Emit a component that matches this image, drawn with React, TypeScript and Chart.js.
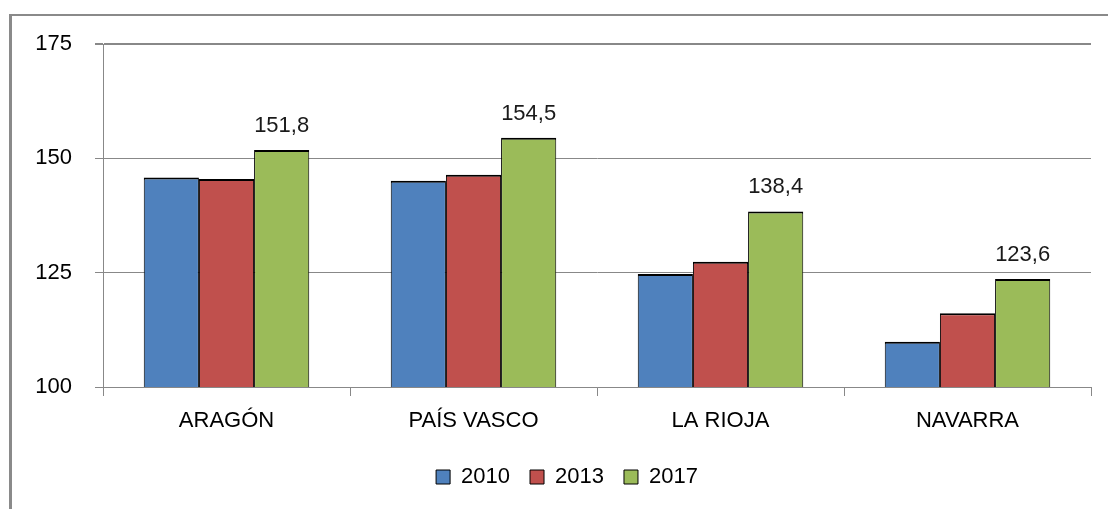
import React, { useEffect, useRef } from "react";
import { Chart, registerables } from "chart.js";

Chart.register(...registerables);

const categories = ["ARAGÓN", "PAÍS VASCO", "LA RIOJA", "NAVARRA"];
const seriesNames = ["2010", "2013", "2017"];
const values2010 = [145.8, 145.1, 124.7, 109.9];
const values2013 = [145.5, 146.4, 127.4, 116.1];
const values2017 = [151.8, 154.5, 138.4, 123.6];
const colors = ["#4F81BD", "#C0504D", "#9BBB59"];
const yMin = 100;
const yMax = 175;
const yStep = 25;

const FONT = "'Liberation Sans', Arial, sans-serif";

const valueLabels = {
  id: "valueLabels",
  afterDatasetsDraw(chart: any) {
    const ctx = chart.ctx;
    const meta = chart.getDatasetMeta(2);
    const ds = chart.data.datasets[2];
    ctx.save();
    ctx.font = `22px ${FONT}`;
    ctx.fillStyle = "#1a1a1a";
    ctx.textAlign = "center";
    ctx.textBaseline = "alphabetic";
    meta.data.forEach((bar: any, i: number) => {
      const v = ds.data[i] as number;
      ctx.fillText(v.toFixed(1).replace(".", ","), bar.x, bar.y - 18);
    });
    ctx.restore();
  },
};

export default function App() {
  const ref = useRef<HTMLCanvasElement>(null);
  useEffect(() => {
    if (!ref.current) return;
    const data = [values2010, values2013, values2017];
    const chart = new Chart(ref.current, {
      type: "bar",
      data: {
        labels: categories,
        datasets: seriesNames.map((name, k) => ({
          label: name,
          data: data[k],
          backgroundColor: colors[k],
          borderColor: "#000000",
          borderWidth: { top: 2, left: 1, right: 1, bottom: 0 },
          categoryPercentage: 0.67,
          barPercentage: 1.0,
        })),
      },
      options: {
        animation: false,
        responsive: false,
        maintainAspectRatio: false,
        layout: { padding: { left: 35, right: 9, top: 44, bottom: 11 } },
        plugins: {
          tooltip: { enabled: false },
          legend: {
            position: "bottom",
            labels: {
              boxWidth: 14,
              boxHeight: 14,
              padding: 20,
              color: "#000",
              font: { family: FONT, size: 22 },
            },
          },
        },
        scales: {
          x: {
            afterFit: (s: any) => {
              s.height = 59;
            },
            grid: {
              offset: true,
              drawOnChartArea: false,
              drawTicks: true,
              tickLength: 9,
              color: "#888888",
            },
            border: { display: true, color: "#888888", width: 1 },
            ticks: {
              color: "#000",
              padding: 12,
              font: { family: FONT, size: 22 },
            },
          },
          y: {
            min: yMin,
            max: yMax,
            afterFit: (s: any) => {
              s.width = 68;
            },
            afterBuildTicks: (s: any) => {
              const t = [];
              for (let v = yMin; v <= yMax; v += yStep) t.push({ value: v });
              s.ticks = t;
            },
            grid: {
              color: "#888888",
              lineWidth: (c: any) => (c.tick && c.tick.value === yMax ? 2 : 1),
              tickLength: 8,
              drawTicks: true,
            },
            border: { display: true, color: "#888888", width: 1 },
            ticks: {
              color: "#000",
              padding: 23,
              stepSize: yStep,
              font: { family: FONT, size: 22 },
            },
          },
          yRightSpace: {
            type: "linear",
            position: "right",
            display: true,
            afterFit: (s: any) => {
              s.width = 8;
            },
            grid: { display: false, drawTicks: false },
            border: { display: false },
            ticks: { display: false },
          },
        },
      },
      plugins: [valueLabels],
    });
    return () => chart.destroy();
  }, []);

  return (
    <div
      style={{
        position: "fixed",
        left: 0,
        top: 0,
        width: 1108,
        height: 509,
        overflow: "hidden",
        background: "#fff",
      }}
    >
      <div
        style={{
          position: "absolute",
          left: 9,
          top: 14,
          width: 1200,
          height: 600,
          borderLeft: "3px solid #8a8a8a",
          borderTop: "2px solid #8a8a8a",
        }}
      />
      <canvas
        ref={ref}
        width={1108}
        height={509}
        style={{ position: "absolute", left: 0, top: 0, width: 1108, height: 509 }}
      />
    </div>
  );
}
